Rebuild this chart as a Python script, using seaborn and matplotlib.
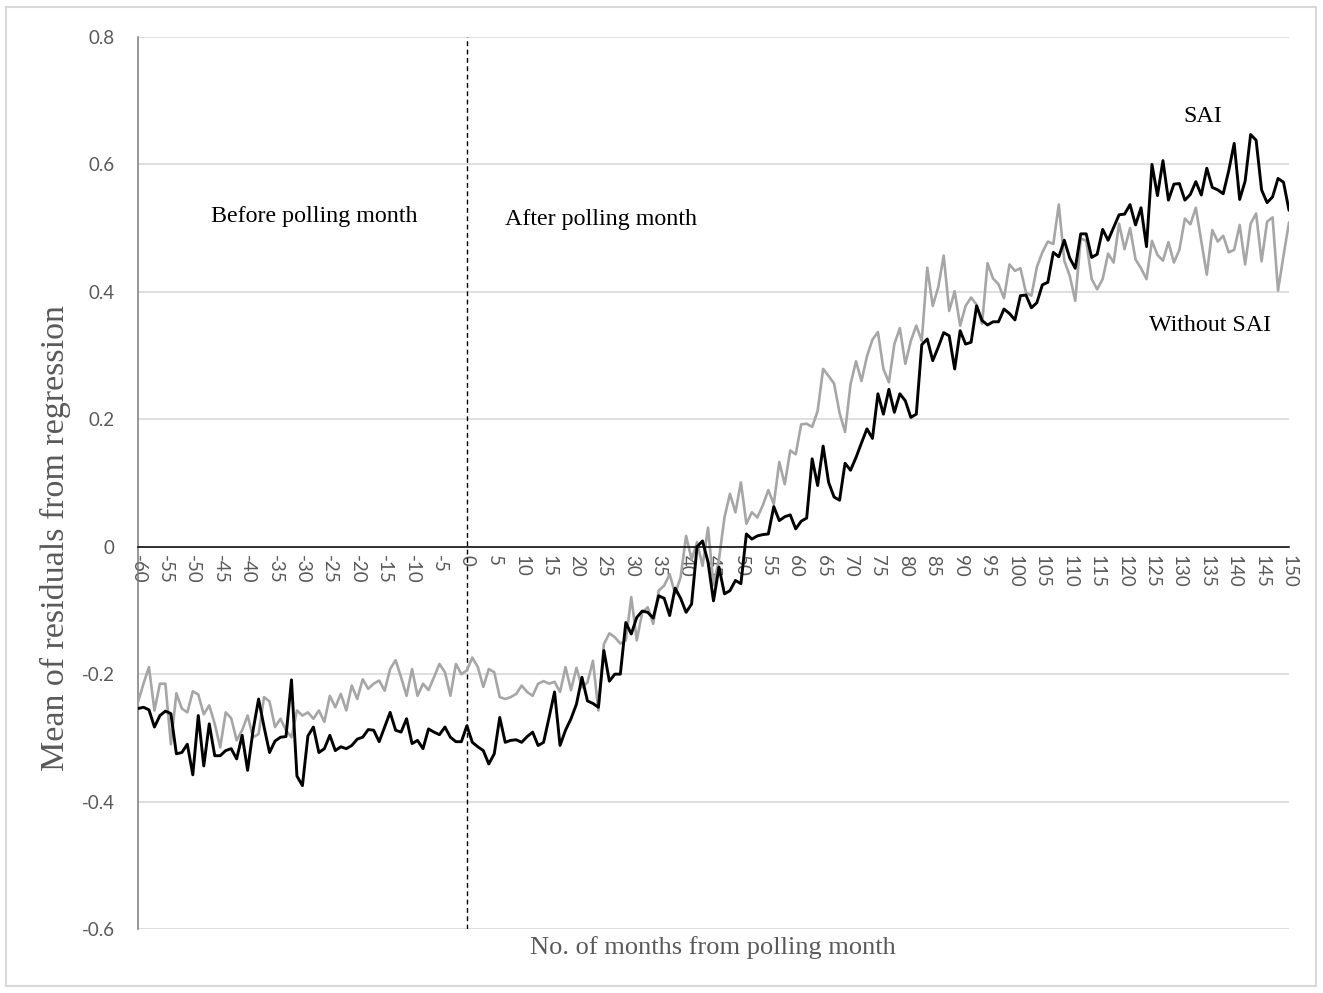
import matplotlib
matplotlib.use("Agg")
import matplotlib.pyplot as plt
from matplotlib.patches import Rectangle
import numpy as np
import pandas as pd
import seaborn as sns

# Months relative to the polling month
months = list(range(-60, 151))

# Mean residuals, series with SAI (black line)
sai = [
    -0.254, -0.252, -0.256, -0.283, -0.265, -0.258, -0.262, -0.325, -0.323, -0.310,
    -0.358, -0.265, -0.344, -0.278, -0.328, -0.328, -0.320, -0.317, -0.333, -0.296,
    -0.351, -0.288, -0.239, -0.283, -0.323, -0.305, -0.299, -0.298, -0.209, -0.360,
    -0.375, -0.297, -0.283, -0.323, -0.317, -0.296, -0.320, -0.314, -0.317, -0.312,
    -0.302, -0.299, -0.287, -0.288, -0.306, -0.283, -0.260, -0.288, -0.291, -0.270,
    -0.309, -0.304, -0.317, -0.286, -0.291, -0.295, -0.283, -0.299, -0.306, -0.306,
    -0.281, -0.307, -0.314, -0.320, -0.341, -0.325, -0.268, -0.307, -0.304, -0.303,
    -0.307, -0.298, -0.291, -0.312, -0.307, -0.268, -0.228, -0.312, -0.288, -0.270,
    -0.247, -0.205, -0.242, -0.246, -0.252, -0.163, -0.211, -0.200, -0.200, -0.119,
    -0.137, -0.111, -0.101, -0.103, -0.112, -0.077, -0.081, -0.108, -0.065, -0.081,
    -0.103, -0.090, 0.000, 0.009, -0.024, -0.085, -0.032, -0.074, -0.069, -0.053,
    -0.058, 0.020, 0.012, 0.017, 0.019, 0.020, 0.063, 0.041, 0.047, 0.050,
    0.028, 0.040, 0.045, 0.138, 0.096, 0.158, 0.101, 0.078, 0.073, 0.131,
    0.120, 0.140, 0.163, 0.185, 0.170, 0.240, 0.208, 0.247, 0.211, 0.240,
    0.229, 0.203, 0.208, 0.317, 0.326, 0.292, 0.313, 0.336, 0.331, 0.279,
    0.339, 0.318, 0.321, 0.378, 0.355, 0.348, 0.353, 0.353, 0.373, 0.366,
    0.356, 0.394, 0.395, 0.375, 0.383, 0.411, 0.415, 0.462, 0.455, 0.481,
    0.453, 0.437, 0.491, 0.491, 0.454, 0.459, 0.498, 0.481, 0.501, 0.521,
    0.522, 0.537, 0.505, 0.532, 0.471, 0.600, 0.551, 0.606, 0.544, 0.569,
    0.570, 0.544, 0.553, 0.573, 0.552, 0.594, 0.564, 0.560, 0.554, 0.590,
    0.633, 0.545, 0.574, 0.647, 0.638, 0.560, 0.540, 0.549, 0.578, 0.572,
    0.528,
]

# Mean residuals, series without SAI (grey line)
without_sai = [
    -0.244, -0.215, -0.189, -0.257, -0.215, -0.215, -0.310, -0.230, -0.254, -0.260,
    -0.227, -0.232, -0.263, -0.249, -0.278, -0.315, -0.260, -0.269, -0.304, -0.288,
    -0.265, -0.299, -0.294, -0.236, -0.243, -0.283, -0.270, -0.288, -0.299, -0.257,
    -0.265, -0.260, -0.270, -0.257, -0.275, -0.234, -0.252, -0.231, -0.257, -0.218,
    -0.239, -0.208, -0.223, -0.215, -0.210, -0.226, -0.192, -0.178, -0.205, -0.234,
    -0.192, -0.234, -0.215, -0.225, -0.205, -0.184, -0.197, -0.234, -0.184, -0.200,
    -0.194, -0.174, -0.189, -0.220, -0.192, -0.197, -0.236, -0.239, -0.236, -0.231,
    -0.218, -0.228, -0.234, -0.215, -0.211, -0.215, -0.212, -0.228, -0.189, -0.225,
    -0.190, -0.221, -0.213, -0.179, -0.257, -0.153, -0.136, -0.142, -0.152, -0.147,
    -0.079, -0.147, -0.103, -0.095, -0.121, -0.069, -0.061, -0.043, -0.074, -0.048,
    0.017, -0.020, 0.007, -0.030, 0.030, -0.060, -0.020, 0.046, 0.083, 0.054,
    0.101, 0.036, 0.054, 0.046, 0.065, 0.089, 0.067, 0.133, 0.098, 0.151,
    0.145, 0.192, 0.193, 0.188, 0.213, 0.279, 0.268, 0.256, 0.210, 0.180,
    0.255, 0.291, 0.260, 0.299, 0.325, 0.337, 0.279, 0.258, 0.318, 0.343,
    0.287, 0.323, 0.347, 0.323, 0.438, 0.378, 0.407, 0.457, 0.370, 0.401,
    0.347, 0.378, 0.391, 0.380, 0.350, 0.445, 0.421, 0.412, 0.390, 0.443,
    0.433, 0.437, 0.399, 0.394, 0.439, 0.462, 0.479, 0.475, 0.537, 0.449,
    0.425, 0.386, 0.484, 0.480, 0.420, 0.404, 0.420, 0.460, 0.446, 0.507,
    0.467, 0.500, 0.451, 0.437, 0.420, 0.480, 0.458, 0.449, 0.478, 0.446,
    0.466, 0.515, 0.506, 0.532, 0.480, 0.427, 0.497, 0.479, 0.488, 0.462,
    0.466, 0.505, 0.443, 0.507, 0.523, 0.448, 0.510, 0.517, 0.402, 0.457,
    0.509,
]

y_ticks = [-0.6, -0.4, -0.2, 0.0, 0.2, 0.4, 0.6, 0.8]
y_tick_labels = ["-0.6", "-0.4", "-0.2", "0", "0.2", "0.4", "0.6", "0.8"]
x_ticks = list(range(-60, 151, 5))
x_tick_labels = [str(t) for t in x_ticks]

df_sai = pd.DataFrame({"month": months, "residual": sai})
df_without = pd.DataFrame({"month": months, "residual": without_sai})

sns.set_style("white")
plt.rcParams["font.family"] = ["Lato", "DejaVu Sans"]

W, H = 1323, 993
fig = plt.figure(figsize=(W / 100, H / 100), dpi=100)
left, right, top, bottom = 138, 1289, 37, 929
ax = fig.add_axes([left / W, 1 - bottom / H, (right - left) / W, (bottom - top) / H])

sns.lineplot(data=df_without, x="month", y="residual", color="#a6a6a6",
             linewidth=1.9, estimator=None, ax=ax, zorder=3)
sns.lineplot(data=df_sai, x="month", y="residual", color="#000000",
             linewidth=2.1, estimator=None, ax=ax, zorder=4)

ax.set_xlim(-60, 150)
ax.set_ylim(-0.6, 0.8)

# Horizontal gridlines
ax.set_yticks(y_ticks)
ax.set_yticklabels(y_tick_labels)
ax.yaxis.grid(True, color="#d9d9d9", linewidth=1.2, zorder=0)
ax.xaxis.grid(False)
ax.set_axisbelow(True)

ax.set_xticks(x_ticks)
ax.set_xticklabels(x_tick_labels)

# Category axis crossing at zero
ax.spines["bottom"].set_position(("data", 0))
ax.spines["bottom"].set_color("#000000")
ax.spines["bottom"].set_linewidth(1.1)
ax.spines["bottom"].set_zorder(5)
ax.spines["left"].set_color("#7a7a7a")
ax.spines["left"].set_linewidth(1.1)
ax.spines["top"].set_visible(False)
ax.spines["right"].set_visible(False)

ax.tick_params(axis="x", direction="in", length=6, width=1.0, color="#000000",
               labelsize=13.5, labelcolor="#595959", pad=6, labelrotation=-90)
ax.tick_params(axis="y", length=0, labelsize=13.5, labelcolor="#595959", pad=17)
for lbl in ax.get_xticklabels():
    lbl.set_verticalalignment("top")
    lbl.set_horizontalalignment("center")

ax.set_xlabel("")
ax.set_ylabel("")

# Polling month divider
ax.axvline(0, color="#000000", linestyle=(0, (3.5, 2.5)), linewidth=1.0, zorder=2)

serif = ["Liberation Serif", "DejaVu Serif"]
ax.text(-9, 0.518, "Before polling month", family=serif, fontsize=17.3,
        ha="right", va="center", color="#000000")
ax.text(7, 0.514, "After polling month", family=serif, fontsize=17.3,
        ha="left", va="center", color="#000000")
ax.text(134.3, 0.675, "SAI", family=serif, fontsize=17.3,
        ha="center", va="center", color="#000000")
ax.text(135.6, 0.347, "Without SAI", family=serif, fontsize=17.3,
        ha="center", va="center", color="#000000")

fig.text(713 / W, 1 - 948 / H, "No. of months from polling month", family=serif,
         fontsize=19, ha="center", va="center", color="#595959")
fig.text(55 / W, 1 - 538 / H, "Mean of residuals from regression", family=serif,
         fontsize=24.5, ha="center", va="center", rotation=90, color="#595959")

# Outer chart frame
fig.patches.append(Rectangle((6 / W, 7 / H), (1316 - 6) / W, (986 - 7) / H,
                             transform=fig.transFigure, fill=False,
                             edgecolor="#d9d9d9", linewidth=1.5))

fig.savefig("out.png", dpi=100)
